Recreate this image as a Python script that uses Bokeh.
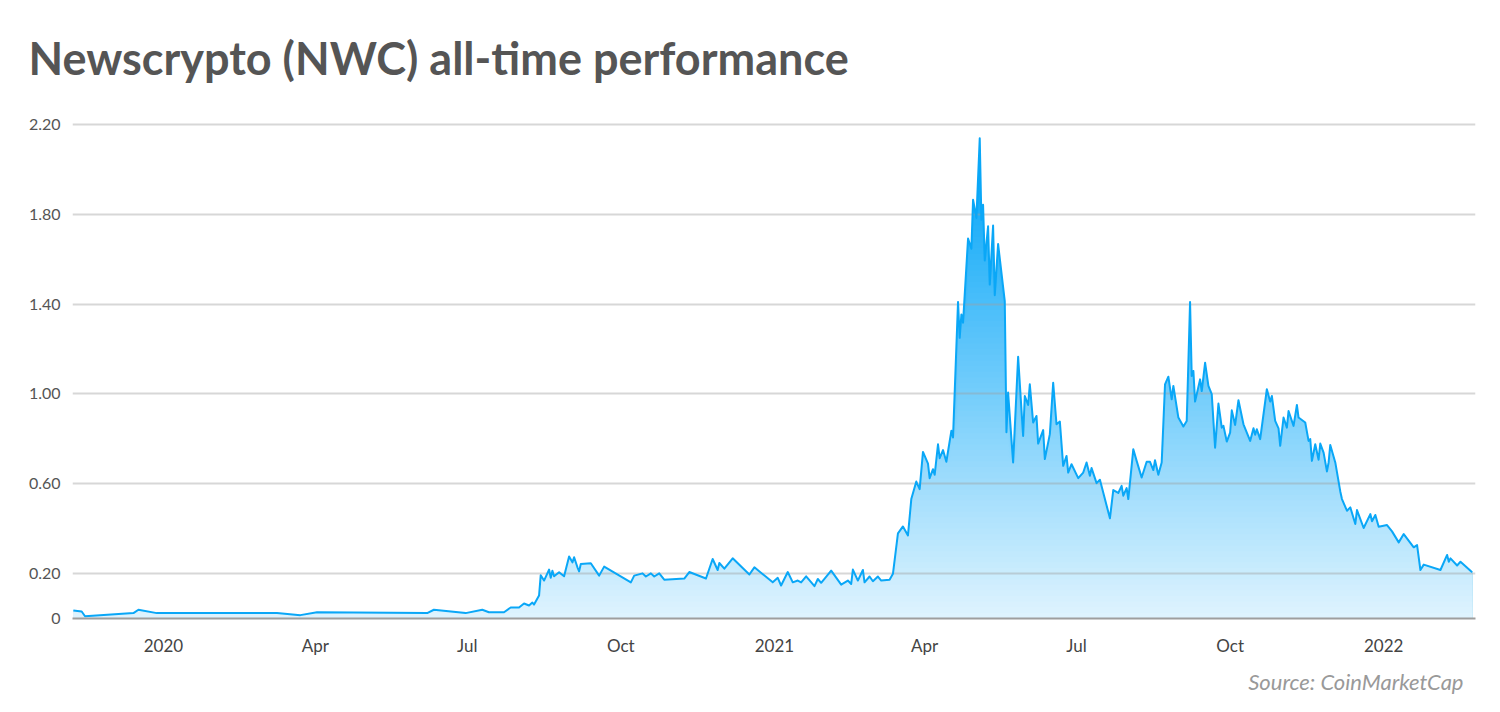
import numpy as np
import pandas as pd
from datetime import datetime
from bokeh.plotting import figure
from bokeh.models import Range1d, FixedTicker, CustomJSTickFormatter, Title
from bokeh.embed import file_html
from bokeh.resources import INLINE

# ---------------- data ----------------
dates_2019_2020 = [
    "2019-11-08", "2019-11-13", "2019-11-15", "2019-12-14", "2019-12-17", "2019-12-28",
    "2020-03-09", "2020-03-23", "2020-04-02", "2020-06-07", "2020-06-11", "2020-06-30",
    "2020-07-10", "2020-07-14", "2020-07-23", "2020-07-27", "2020-08-01", "2020-08-04",
    "2020-08-07", "2020-08-09", "2020-08-10", "2020-08-13", "2020-08-14", "2020-08-16",
    "2020-08-19", "2020-08-20", "2020-08-21", "2020-08-22", "2020-08-25", "2020-08-28",
    "2020-08-31", "2020-09-02", "2020-09-03", "2020-09-05", "2020-09-06", "2020-09-07",
    "2020-09-13", "2020-09-18", "2020-09-21", "2020-10-07", "2020-10-09", "2020-10-14",
    "2020-10-16", "2020-10-19", "2020-10-21", "2020-10-24", "2020-10-27", "2020-11-08",
    "2020-11-11", "2020-11-21", "2020-11-25", "2020-11-28", "2020-11-29", "2020-12-02",
    "2020-12-07", "2020-12-17", "2020-12-20", "2020-12-31",
]
prices_2019_2020 = [
    0.036, 0.031, 0.010, 0.024, 0.039, 0.024,
    0.024, 0.015, 0.028, 0.024, 0.039, 0.024,
    0.039, 0.028, 0.028, 0.049, 0.049, 0.067,
    0.058, 0.071, 0.062, 0.102, 0.193, 0.169,
    0.218, 0.181, 0.213, 0.188, 0.206, 0.188,
    0.276, 0.250, 0.273, 0.228, 0.210, 0.243,
    0.246, 0.191, 0.231, 0.161, 0.191, 0.201,
    0.187, 0.201, 0.187, 0.201, 0.173, 0.178,
    0.207, 0.178, 0.265, 0.216, 0.247, 0.222,
    0.268, 0.196, 0.228, 0.161,
]

dates_2021_h1 = [
    "2021-01-03", "2021-01-05", "2021-01-09", "2021-01-12", "2021-01-15", "2021-01-17",
    "2021-01-20", "2021-01-25", "2021-01-27", "2021-01-29", "2021-02-04", "2021-02-10",
    "2021-02-14", "2021-02-16", "2021-02-17", "2021-02-20", "2021-02-23", "2021-02-24",
    "2021-02-27", "2021-03-01", "2021-03-04", "2021-03-06", "2021-03-11", "2021-03-13",
    "2021-03-16", "2021-03-19", "2021-03-22", "2021-03-24", "2021-03-27", "2021-03-29",
    "2021-03-31", "2021-04-03", "2021-04-04", "2021-04-06", "2021-04-07", "2021-04-09",
    "2021-04-10", "2021-04-12", "2021-04-14", "2021-04-17", "2021-04-18", "2021-04-21",
    "2021-04-22", "2021-04-23", "2021-04-24", "2021-04-27", "2021-04-29", "2021-04-30",
    "2021-05-02", "2021-05-04", "2021-05-05", "2021-05-06", "2021-05-07", "2021-05-09",
    "2021-05-10", "2021-05-12", "2021-05-13", "2021-05-15", "2021-05-19", "2021-05-20",
    "2021-05-21", "2021-05-24", "2021-05-27", "2021-05-30", "2021-05-31", "2021-06-02",
    "2021-06-03", "2021-06-05", "2021-06-07", "2021-06-08", "2021-06-11", "2021-06-12",
    "2021-06-15", "2021-06-17", "2021-06-19", "2021-06-21", "2021-06-23", "2021-06-25",
    "2021-06-26", "2021-06-28",
]
prices_2021_h1 = [
    0.181, 0.147, 0.207, 0.161, 0.169, 0.161,
    0.188, 0.144, 0.176, 0.159, 0.213, 0.151,
    0.169, 0.154, 0.218, 0.169, 0.216, 0.161,
    0.187, 0.166, 0.187, 0.169, 0.173, 0.199,
    0.379, 0.410, 0.370, 0.532, 0.610, 0.576,
    0.742, 0.690, 0.625, 0.665, 0.640, 0.776,
    0.714, 0.750, 0.698, 0.836, 0.806, 1.410,
    1.250, 1.354, 1.317, 1.692, 1.647, 1.865,
    1.784, 2.139, 1.776, 1.843, 1.594, 1.747,
    1.487, 1.750, 1.440, 1.668, 1.413, 0.830,
    1.006, 0.695, 1.166, 0.813, 0.991, 0.951,
    1.043, 0.873, 0.902, 0.779, 0.839, 0.710,
    0.821, 1.050, 0.865, 0.877, 0.680, 0.724,
    0.650, 0.687,
]

dates_2021_h2 = [
    "2021-07-02", "2021-07-05", "2021-07-07", "2021-07-09", "2021-07-10", "2021-07-13",
    "2021-07-15", "2021-07-21", "2021-07-23", "2021-07-26", "2021-07-28", "2021-07-29",
    "2021-07-31", "2021-08-01", "2021-08-04", "2021-08-06", "2021-08-09", "2021-08-12",
    "2021-08-14", "2021-08-16", "2021-08-17", "2021-08-19", "2021-08-21", "2021-08-23",
    "2021-08-25", "2021-08-27", "2021-08-28", "2021-08-31", "2021-09-03", "2021-09-05",
    "2021-09-07", "2021-09-08", "2021-09-09", "2021-09-10", "2021-09-13", "2021-09-14",
    "2021-09-16", "2021-09-18", "2021-09-20", "2021-09-22", "2021-09-24", "2021-09-26",
    "2021-09-27", "2021-09-29", "2021-10-01", "2021-10-02", "2021-10-04", "2021-10-06",
    "2021-10-09", "2021-10-13", "2021-10-15", "2021-10-16", "2021-10-17", "2021-10-19",
    "2021-10-23", "2021-10-25", "2021-10-26", "2021-10-28", "2021-10-30", "2021-10-31",
    "2021-11-02", "2021-11-04", "2021-11-05", "2021-11-08", "2021-11-10", "2021-11-11",
    "2021-11-15", "2021-11-17", "2021-11-18", "2021-11-19", "2021-11-21", "2021-11-23",
    "2021-11-24", "2021-11-26", "2021-11-28", "2021-11-29", "2021-11-30", "2021-12-03",
    "2021-12-06", "2021-12-07", "2021-12-10", "2021-12-12", "2021-12-15", "2021-12-16",
    "2021-12-20", "2021-12-24", "2021-12-25", "2021-12-27", "2021-12-29",
]
prices_2021_h2 = [
    0.625, 0.650, 0.695, 0.636, 0.670, 0.603,
    0.618, 0.446, 0.572, 0.559, 0.591, 0.547,
    0.581, 0.532, 0.754, 0.702, 0.628, 0.698,
    0.698, 0.661, 0.705, 0.640, 0.695, 1.043,
    1.077, 0.976, 1.036, 0.895, 0.855, 0.880,
    1.410, 1.080, 1.102, 0.966, 1.065, 1.013,
    1.139, 1.036, 0.999, 0.761, 0.957, 0.850,
    0.858, 0.788, 0.828, 0.927, 0.862, 0.972,
    0.865, 0.791, 0.847, 0.818, 0.843, 0.799,
    1.021, 0.966, 0.991, 0.880, 0.847, 0.769,
    0.895, 0.850, 0.924, 0.858, 0.951, 0.895,
    0.873, 0.791, 0.799, 0.702, 0.776, 0.707,
    0.779, 0.739, 0.655, 0.695, 0.773, 0.695,
    0.566, 0.532, 0.480, 0.495, 0.421, 0.483,
    0.403, 0.465, 0.433, 0.461, 0.409,
]

dates_2022 = [
    "2022-01-03", "2022-01-06", "2022-01-10", "2022-01-13", "2022-01-19", "2022-01-21",
    "2022-01-23", "2022-01-25", "2022-02-04", "2022-02-08", "2022-02-09", "2022-02-10",
    "2022-02-14", "2022-02-16", "2022-02-23",
]
prices_2022 = [
    0.416, 0.388, 0.339, 0.376, 0.317, 0.327,
    0.216, 0.240, 0.216, 0.283, 0.253, 0.268,
    0.236, 0.253, 0.206,
]

y_tick_values = [0, 0.2, 0.6, 1.0, 1.4, 1.8, 2.2]
x_tick_dates = ["2020-01-01", "2020-04-01", "2020-07-01", "2020-10-01",
                "2021-01-01", "2021-04-01", "2021-07-01", "2021-10-01", "2022-01-01"]

title_text = "Newscrypto (NWC) all-time performance"
source_text = "Source: CoinMarketCap"

# ---------------- assemble ----------------
dates = pd.to_datetime(dates_2019_2020 + dates_2021_h1 + dates_2021_h2 + dates_2022)
prices = np.array(prices_2019_2020 + prices_2021_h1 + prices_2021_h2 + prices_2022)

FONT = "Lato"

p = figure(
    width=1484, height=704,
    x_axis_type="datetime",
    x_range=Range1d(datetime(2019, 11, 7, 12), datetime(2022, 2, 25)),
    y_range=Range1d(0, 2.307),
    output_backend="svg", toolbar_location=None,
    min_border_left=72, min_border_right=9, min_border_top=100, min_border_bottom=86,
    title=title_text,
)
p.outline_line_color = None
p.background_fill_color = "white"
p.border_fill_color = "white"

p.title.text_font = FONT
p.title.text_font_size = "45px"
p.title.text_font_style = "bold"
p.title.text_color = "#555555"
p.title.align = "left"
p.title.offset = -44
p.title.standoff = 31

# gradient area: stacked bands, each drawn from 0 up to min(price, level)
levels = np.linspace(0, 2.2, 89)[1:]
base = np.array([12, 168, 248])
for hi in levels[::-1]:
    mid = hi - (levels[1] - levels[0]) / 2
    a = min(1.0, 0.13 + 0.44 * mid)
    c = (255 - a * (255 - base)).round().astype(int)
    col = "#%02x%02x%02x" % tuple(c)
    r = p.varea(x=dates, y1=0, y2=np.minimum(prices, hi), fill_color=col, fill_alpha=1.0)
    r.level = "image"

line = p.line(dates, prices, line_color="#0aa7f7", line_width=2, line_join="round")

# axes
p.yaxis.ticker = FixedTicker(ticks=y_tick_values)
p.yaxis.formatter = CustomJSTickFormatter(code="return tick == 0 ? '0' : tick.toFixed(2);")
p.yaxis.axis_line_color = None
p.yaxis.major_tick_line_color = None
p.yaxis.minor_tick_line_color = None
p.yaxis.major_tick_out = 0
p.yaxis.major_tick_in = 0
p.yaxis.major_label_standoff = 12
p.yaxis.major_label_text_font = FONT
p.yaxis.major_label_text_font_size = "16px"
p.yaxis.major_label_text_color = "#555555"

x_ticks_ms = [pd.Timestamp(d).value // 10**6 for d in x_tick_dates]
p.xaxis.ticker = FixedTicker(ticks=x_ticks_ms)
p.xaxis.formatter = CustomJSTickFormatter(code="""
const d = new Date(tick);
const m = d.getUTCMonth();
const names = ["Jan","Feb","Mar","Apr","May","Jun","Jul","Aug","Sep","Oct","Nov","Dec"];
return m === 0 ? String(d.getUTCFullYear()) : names[m];
""")
p.xaxis.axis_line_color = "#9e9e9e"
p.xaxis.axis_line_width = 2
p.xaxis.major_tick_line_color = None
p.xaxis.minor_tick_line_color = None
p.xaxis.major_tick_out = 0
p.xaxis.major_tick_in = 0
p.xaxis.major_label_standoff = 16
p.xaxis.major_label_text_font = FONT
p.xaxis.major_label_text_font_size = "17px"
p.xaxis.major_label_text_color = "#444444"

p.xgrid.grid_line_color = None
p.ygrid.ticker = FixedTicker(ticks=y_tick_values)
p.ygrid.grid_line_color = "#a0a0a0"
p.ygrid.grid_line_alpha = 0.42
p.ygrid.grid_line_width = 2

src = Title(text=source_text, align="right", offset=12, standoff=14,
            text_font=FONT, text_font_size="22px", text_font_style="italic",
            text_color="#999999")
p.add_layout(src, "below")

open("out.html", "w").write(file_html(p, INLINE, title=title_text))
